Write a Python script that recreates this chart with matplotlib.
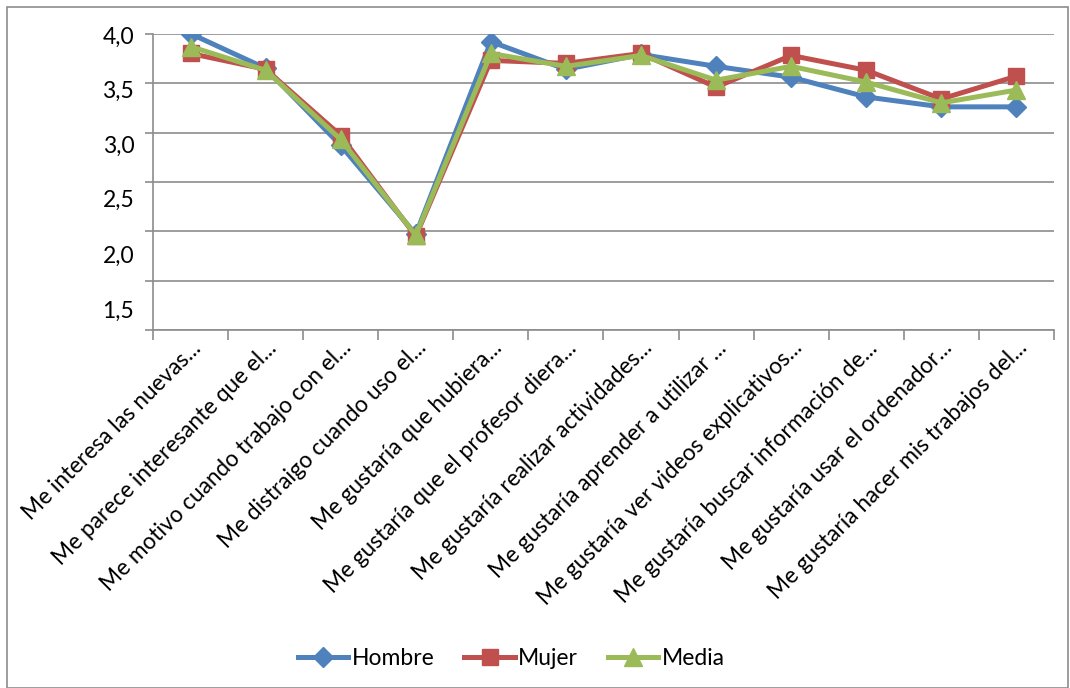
import matplotlib
matplotlib.use("Agg")
import matplotlib.pyplot as plt
from matplotlib.patches import Rectangle

categories = [
    "Me interesa las nuevas...",
    "Me parece interesante que el...",
    "Me motivo cuando trabajo con el...",
    "Me distraigo cuando uso el...",
    "Me gustaría que hubiera...",
    "Me gustaría que el profesor diera...",
    "Me gustaría realizar actividades...",
    "Me gustaría aprender a utilizar ...",
    "Me gustaría ver videos explicativos...",
    "Me gustaría buscar información de...",
    "Me gustaría usar el ordenador...",
    "Me gustaría hacer mis trabajos del...",
]
hombre = [4.00, 3.65, 2.87, 1.97, 3.92, 3.64, 3.79, 3.67, 3.56, 3.36, 3.26, 3.26]
mujer = [3.80, 3.64, 2.97, 1.95, 3.73, 3.70, 3.80, 3.46, 3.78, 3.63, 3.34, 3.57]
media = [3.87, 3.63, 2.93, 1.96, 3.80, 3.67, 3.78, 3.53, 3.67, 3.51, 3.30, 3.43]
ytick_labels = ["4,0", "3,5", "3,0", "2,5", "2,0", "1,5"]

plt.rcParams["font.family"] = ["Lato", "DejaVu Sans"]

fig = plt.figure(figsize=(10.7, 6.88), dpi=100)
ax = fig.add_axes([0.143, 0.520, 0.842, 0.431])

x = list(range(len(categories)))
ax.plot(x, hombre, color="#4F81BD", lw=3.6, marker="D", ms=10, label="Hombre", zorder=3)
ax.plot(x, mujer, color="#C0504D", lw=3.6, marker="s", ms=12, label="Mujer", zorder=4)
ax.plot(x, media, color="#9BBB59", lw=3.6, marker="^", ms=13, label="Media", zorder=5)

ax.set_xlim(-0.5, len(categories) - 0.5)
ax.set_ylim(1.0, 4.0)

# gridlines every 0.5
ax.set_yticks([1.0, 1.5, 2.0, 2.5, 3.0, 3.5, 4.0])
ax.yaxis.grid(True, color="#8c8c8c", lw=1.2)
ax.set_yticklabels([])
ax.tick_params(axis="y", length=6, color="#8c8c8c", width=1.2)
ax.set_axisbelow(True)

# Excel put the y labels slightly off the grid spacing
label_pos = [3.96, 3.42, 2.86, 2.31, 1.75, 1.19]
for v, t in zip(label_pos, ytick_labels):
    ax.text(-0.75, v, t, ha="right", va="center", fontsize=16.5, transform=ax.transData)

ax.set_xticks([i - 0.5 for i in range(len(categories) + 1)])
ax.set_xticklabels([])
ax.set_xticks(x, minor=True)
ax.set_xticklabels(categories, minor=True, rotation=45, ha="right",
                   rotation_mode="anchor", fontsize=16.3)
ax.tick_params(axis="x", which="major", length=7, color="#8c8c8c", width=1.2)
ax.tick_params(axis="x", which="minor", length=0, pad=5)

for s in ["top", "right"]:
    ax.spines[s].set_visible(False)
for s in ["left", "bottom"]:
    ax.spines[s].set_color("#8c8c8c")
    ax.spines[s].set_linewidth(1.2)

fig.legend(loc="center", bbox_to_anchor=(0.478, 0.043), ncol=3, frameon=False,
           fontsize=16.5, handlelength=2.2, columnspacing=1.3, handletextpad=0.15)

fig.patches.append(Rectangle((0.007, 0.0), 0.991, 0.99, transform=fig.transFigure,
                             fill=False, edgecolor="#8c8c8c", lw=1.2))

fig.savefig("out.png", dpi=100)
